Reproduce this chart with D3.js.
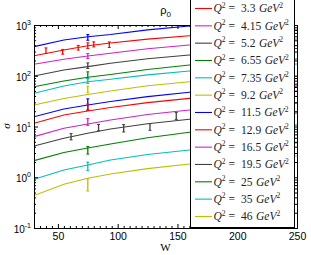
<!DOCTYPE html>
<html>
<head>
<meta charset="utf-8">
<script src="https://cdn.jsdelivr.net/npm/d3@7"></script>
<style>
  body { margin: 0; background: #fff; }
  svg { display: block; }
</style>
</head>
<body>
<svg id="chart" width="311" height="255"></svg>
<script>
// W values at which the model curves were read
const wGrid = [30, 55, 75, 94, 125, 160, 250];

// legend labels, top blue curve has its label cut off above the picture
const q2Labels = [null, "3.3", "4.15", "5.2", "6.55", "7.35", "9.2", "11.5", "12.9", "16.5", "19.5", "25", "35", "46"];

const lineColors = ["#0000ff", "#ff0000", "#d020d0", "#404040", "#008000", "#00bfbf", "#bfbf00",
                    "#0000ff", "#ff0000", "#d020d0", "#404040", "#008000", "#00bfbf", "#bfbf00"];

// sigma along wGrid, one row per curve
const sigmaCurves = [
  [374, 506, 588, 650, 800, 955, 1250],
  [248, 322, 391, 442, 527, 616, 797],
  [168, 211, 245, 277, 340, 404, 530],
  [98.9, 130, 151, 176, 216, 256, 344],
  [60.8, 78.8, 93.2, 106, 133, 163, 214],
  [45.1, 62.8, 76.3, 85.1, 104, 124, 170],
  [26.5, 35.6, 42.7, 50.1, 63.4, 76.3, 98.9],
  [15.6, 22.1, 26.5, 31.1, 38.8, 47.2, 62.8],
  [11.6, 16.9, 20.2, 23.7, 29.6, 35.9, 50.1],
  [6.30, 9.21, 11.2, 13.4, 17.2, 21.1, 29.0],
  [4.13, 5.85, 7.35, 8.93, 11.3, 13.9, 18.5],
  [2.12, 3.07, 3.77, 4.52, 5.99, 7.69, 10.7],
  [0.911, 1.39, 1.74, 2.19, 2.80, 3.44, 4.73],
  [0.437, 0.726, 0.953, 1.16, 1.48, 1.82, 2.62]
];

// measurements: [curve index, W, sigma, error]
const dataPoints = [
  [0, 75, 575, 75],
  [1, 40, 314, 40], [1, 54, 298, 32], [1, 67, 358, 38], [1, 75, 395, 50], [1, 80, 418, 48], [1, 93, 413, 52],
  [2, 75, 247, 28],
  [3, 75, 159, 20],
  [4, 75, 103.5, 16],
  [5, 75, 79.5, 9],
  [6, 75, 54, 8],
  [7, 75, 28.1, 7],
  [8, 75, 24.2, 3.5],
  [9, 75, 12.4, 1.9],
  [10, 61, 6.35, 0.9], [10, 84, 9.6, 1.35], [10, 105, 9.34, 1.55], [10, 127, 9.9, 1.5], [10, 149, 16.3, 2.5],
  [11, 75, 3.44, 0.58],
  [12, 75, 1.67, 0.32],
  [13, 75, 0.736, 0.2]
];

const xTicks = [50, 100, 150, 200, 250];
const yTicks = [0.1, 1, 10, 100, 1000];

const svg = d3.select("#chart");
const plotLeft = 34, plotRight = 297, plotTop = 25, plotBottom = 228;

const x = d3.scaleLinear().domain([30, 250]).range([plotLeft, plotRight]);
const y = d3.scaleLog().domain([0.1, 1000]).range([plotBottom, plotTop]);

svg.append("clipPath").attr("id", "plotClip")
  .append("rect")
  .attr("x", plotLeft).attr("y", plotTop)
  .attr("width", plotRight - plotLeft).attr("height", plotBottom - plotTop);

// model curves
const line = d3.line()
  .x((d, i) => x(wGrid[i]))
  .y(d => y(d));

const plot = svg.append("g").attr("clip-path", "url(#plotClip)");

plot.selectAll("path.curve")
  .data(sigmaCurves)
  .enter()
  .append("path")
  .attr("class", "curve")
  .attr("d", d => line(d))
  .attr("fill", "none")
  .attr("stroke", (d, i) => lineColors[i])
  .attr("stroke-width", 1.1);

// error bars
const bars = plot.selectAll("g.bar")
  .data(dataPoints)
  .enter()
  .append("g")
  .attr("class", "bar")
  .attr("stroke", d => lineColors[d[0]]);

bars.append("line")
  .attr("stroke-width", 1.3)
  .attr("x1", d => x(d[1])).attr("x2", d => x(d[1]))
  .attr("y1", d => y(d[2] + d[3])).attr("y2", d => y(d[2] - d[3]));
bars.append("line")
  .attr("stroke-width", 1)
  .attr("x1", d => x(d[1]) - 1.5).attr("x2", d => x(d[1]) + 1.5)
  .attr("y1", d => y(d[2] + d[3])).attr("y2", d => y(d[2] + d[3]));
bars.append("line")
  .attr("stroke-width", 1)
  .attr("x1", d => x(d[1]) - 1.5).attr("x2", d => x(d[1]) + 1.5)
  .attr("y1", d => y(d[2] - d[3])).attr("y2", d => y(d[2] - d[3]));

// axes, ticks pointing inward
const xMinor = d3.range(30, 251, 5).filter(v => v % 50 !== 0);
const yMinor = [];
[-1, 0, 1, 2].forEach(e => {
  for (let k = 2; k <= 9; k++) yMinor.push(k * Math.pow(10, e));
});

function styleAxis(g) {
  g.selectAll("path.domain").attr("stroke", "#000");
  g.selectAll(".tick line").attr("stroke", "#000");
}

svg.append("g")
  .attr("transform", `translate(0,${plotBottom})`)
  .call(d3.axisBottom(x).tickValues(xMinor).tickSizeInner(-2).tickSizeOuter(0).tickFormat(""))
  .call(styleAxis);
svg.append("g")
  .attr("transform", `translate(0,${plotBottom})`)
  .call(d3.axisBottom(x).tickValues(xTicks).tickSizeInner(-4).tickSizeOuter(0).tickPadding(5))
  .call(styleAxis)
  .call(g => g.selectAll("text")
    .attr("font-family", "Liberation Sans, Arial, sans-serif")
    .attr("font-size", 10.5)
    .attr("fill", "#000"));
svg.append("g")
  .attr("transform", `translate(0,${plotTop})`)
  .call(d3.axisTop(x).tickValues(xMinor).tickSizeInner(-2).tickSizeOuter(0).tickFormat(""))
  .call(styleAxis);
svg.append("g")
  .attr("transform", `translate(0,${plotTop})`)
  .call(d3.axisTop(x).tickValues(xTicks).tickSizeInner(-4).tickSizeOuter(0).tickFormat(""))
  .call(styleAxis);

svg.append("g")
  .attr("transform", `translate(${plotLeft},0)`)
  .call(d3.axisLeft(y).tickValues(yMinor).tickSizeInner(-2).tickSizeOuter(0).tickFormat(""))
  .call(styleAxis);
svg.append("g")
  .attr("transform", `translate(${plotLeft},0)`)
  .call(d3.axisLeft(y).tickValues(yTicks).tickSizeInner(-4).tickSizeOuter(0).tickPadding(3)
    .tickFormat(d => Math.round(Math.log10(d))))
  .call(styleAxis)
  .call(g => g.selectAll("text").each(function () {
    const t = d3.select(this);
    const ex = t.text();
    t.text(null)
      .attr("font-family", "Liberation Sans, Arial, sans-serif")
      .attr("fill", "#000")
      .attr("dy", "0.45em");
    t.append("tspan").attr("font-size", 10).text("10");
    t.append("tspan").attr("font-size", 7).attr("dy", -5).text(ex);
  }));
svg.append("g")
  .attr("transform", `translate(${plotRight},0)`)
  .call(d3.axisRight(y).tickValues(yMinor).tickSizeInner(-2).tickSizeOuter(0).tickFormat(""))
  .call(styleAxis);
svg.append("g")
  .attr("transform", `translate(${plotRight},0)`)
  .call(d3.axisRight(y).tickValues(yTicks).tickSizeInner(-4).tickSizeOuter(0).tickFormat(""))
  .call(styleAxis);

// titles
const title = svg.append("text")
  .attr("x", (plotLeft + plotRight) / 2).attr("y", 14)
  .attr("text-anchor", "middle")
  .attr("font-family", "Liberation Sans, Arial, sans-serif")
  .attr("font-size", 11);
title.append("tspan").text("ρ");
title.append("tspan").attr("font-size", 8).attr("dy", 3).text("0");

svg.append("text")
  .attr("x", (plotLeft + plotRight) / 2).attr("y", 251)
  .attr("text-anchor", "middle")
  .attr("font-family", "Liberation Serif, Times New Roman, serif")
  .attr("font-size", 11)
  .text("W");

svg.append("text")
  .attr("transform", "translate(10,126) rotate(-90)")
  .attr("text-anchor", "middle")
  .attr("font-family", "Liberation Serif, Times New Roman, serif")
  .attr("font-style", "italic")
  .attr("font-size", 11)
  .text("σ");

// legend
const legend = svg.append("g");
legend.append("rect")
  .attr("x", 190.5).attr("y", -18)
  .attr("width", 104).attr("height", 245.5)
  .attr("fill", "#fff")
  .attr("stroke", "#000")
  .attr("stroke-width", 1);

const entries = q2Labels.map((q, i) => ({ q: q, color: lineColors[i], row: i - 1 }))
  .filter(d => d.q !== null);

const rows = legend.selectAll("g.entry")
  .data(entries)
  .enter()
  .append("g")
  .attr("class", "entry")
  .attr("transform", d => `translate(0,${8.5 + d.row * 17.33})`);

rows.append("line")
  .attr("x1", 195).attr("x2", 212)
  .attr("stroke", d => d.color)
  .attr("stroke-width", 1.1);

const labels = rows.append("text")
  .attr("x", 213.5).attr("y", 3.8)
  .attr("font-family", "Liberation Serif, Times New Roman, serif")
  .attr("font-size", 11.5)
  .attr("fill", "#222");
labels.append("tspan").attr("font-style", "italic").text("Q");
labels.append("tspan").attr("font-size", 7.5).attr("dy", -4.5).text("2");
labels.append("tspan").attr("x", 228.5).attr("dy", 4.5).text("=");
labels.append("tspan").attr("x", 241).text(d => d.q);
labels.append("tspan").attr("dx", 3.5).attr("font-style", "italic").text("GeV");
labels.append("tspan").attr("font-size", 7.5).attr("dy", -4.5).text("2");
</script>
</body>
</html>
